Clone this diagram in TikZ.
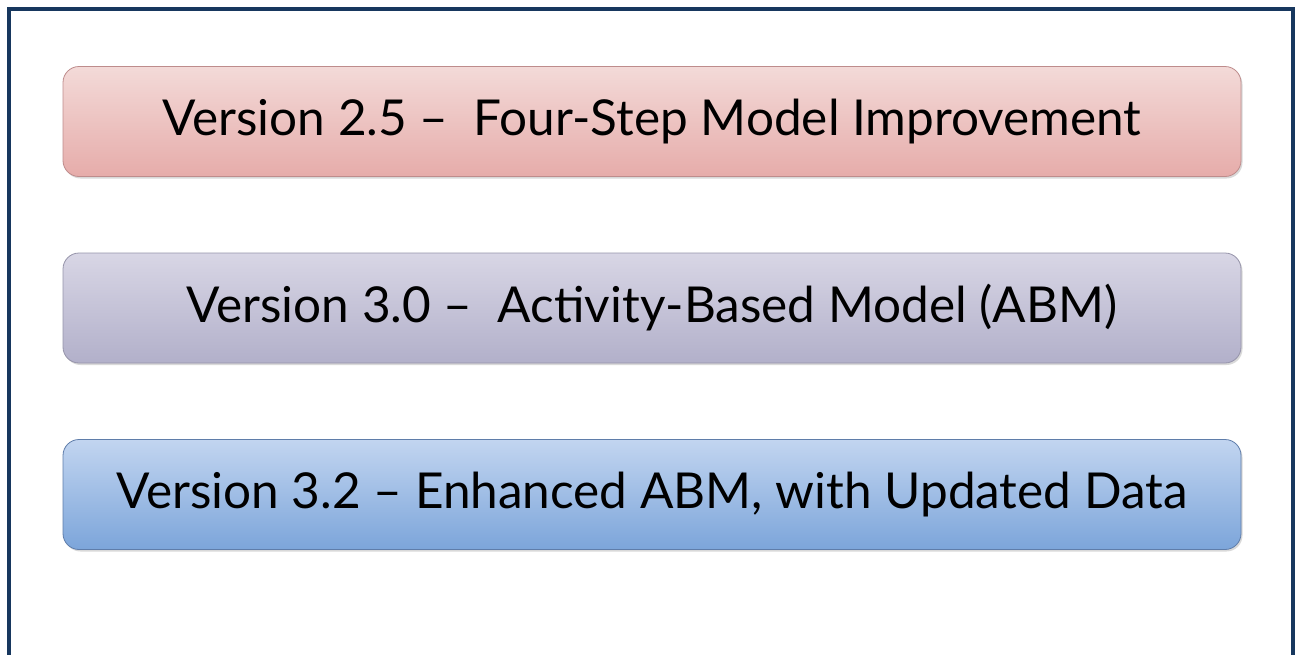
\documentclass[tikz,border=0pt]{standalone}
\usepackage{fontspec}
\setmainfont{Lato}
\usetikzlibrary{shadows}
\definecolor{frame}{HTML}{17375E}
\definecolor{redtop}{RGB}{243,218,216}
\definecolor{redbot}{RGB}{230,172,170}
\definecolor{redline}{RGB}{190,140,140}
\definecolor{lavtop}{RGB}{216,214,229}
\definecolor{lavbot}{RGB}{178,176,202}
\definecolor{lavline}{RGB}{150,148,170}
\definecolor{bluetop}{RGB}{194,213,240}
\definecolor{bluebot}{RGB}{124,165,218}
\definecolor{blueline}{RGB}{95,125,170}
\tikzset{
  vbox/.style={rounded corners=16pt, minimum width=1178pt, minimum height=110pt,
    inner sep=0pt, font=\fontsize{49.5}{58}\selectfont, text=black,
    draw=#1, line width=0.8pt,
    drop shadow={shadow xshift=1.5pt, shadow yshift=-2pt, opacity=0.15, fill=black}},
}
\begin{document}
\begin{tikzpicture}[x=1pt,y=-1pt]
\useasboundingbox (0,0) rectangle (1295,654);
\fill[white] (0,0) rectangle (1295,654);
\draw[frame, line width=4pt] (9,660) -- (9,9) -- (1293,9) -- (1293,660);
\node[vbox=redline, top color=redtop, bottom color=redbot] (v25) at (652,121.5) {Version 2.5 --\ \ Four-Step Model Improvement};
\node[vbox=lavline, top color=lavtop, bottom color=lavbot] (v30) at (652,308) {Version 3.0 --\ \ Activity-Based Model (ABM)};
\node[vbox=blueline, top color=bluetop, bottom color=bluebot] (v32) at (652,494.5) {Version 3.2 -- Enhanced ABM, with Updated Data};
\end{tikzpicture}
\end{document}
